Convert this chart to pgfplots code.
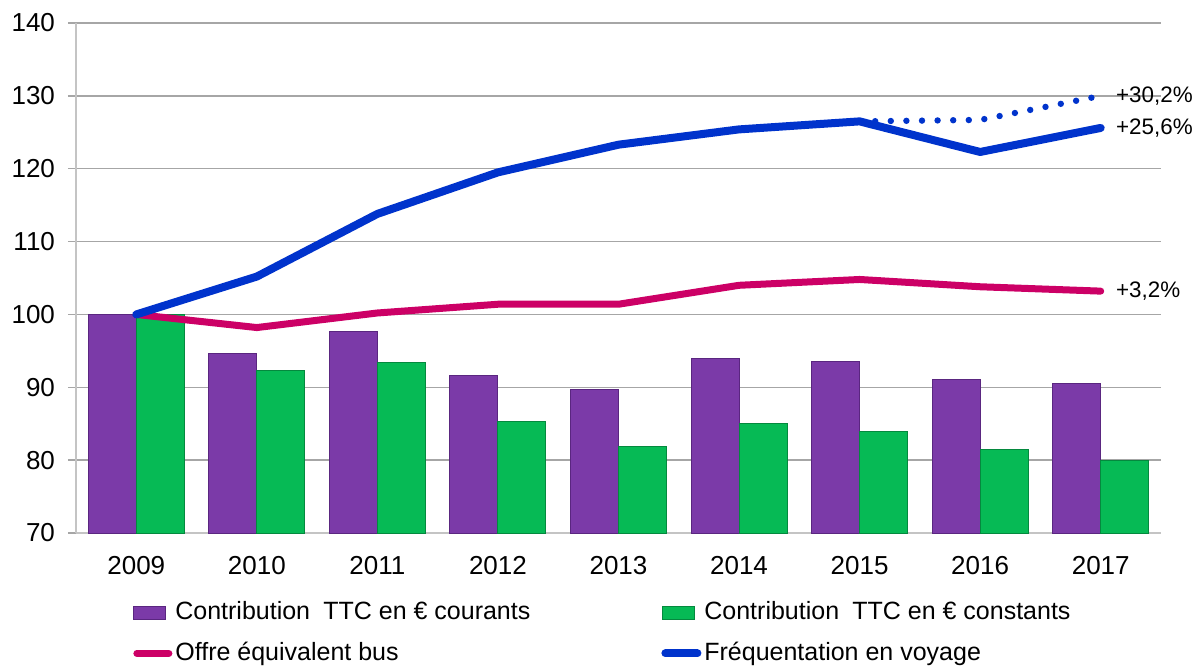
\documentclass[border=0pt]{standalone}
\usepackage{pgfplots}
\pgfplotsset{compat=1.18}
\usepackage{fontspec}
\setmainfont{Liberation Sans}
\definecolor{cpurple}{HTML}{7B3AA8}
\definecolor{cpurpled}{HTML}{5A2680}
\definecolor{cgreen}{HTML}{06BA55}
\definecolor{cgreend}{HTML}{04893E}
\definecolor{cred}{HTML}{CC0066}
\definecolor{cblue}{HTML}{0033CC}
\definecolor{cgrid}{HTML}{A6A6A6}
\definecolor{caxis}{HTML}{C4C4C4}
\begin{document}
\begin{tikzpicture}
\path[use as bounding box] (-38pt,-66.5pt) rectangle (559pt,266.5pt);
\begin{axis}[
  at={(0pt,0pt)}, anchor=south west,
  scale only axis, width=542.5pt, height=255pt,
  xmin=-0.5, xmax=8.5, ymin=70, ymax=140,
  ytick={70,80,...,140},
  xtick={0,...,8},
  xticklabels={2009,2010,2011,2012,2013,2014,2015,2016,2017},
  minor xtick={-0.5,0.5,...,8.5},
  axis x line*=bottom, axis y line*=left,
  axis line style={caxis, line width=0.9pt, -},
  ymajorgrids, major grid style={cgrid, line width=0.75pt},
  tick align=outside,
  major tick length=4pt, minor tick length=4pt,
  xtick style={draw=none},
  minor x tick style={caxis, line width=0.9pt},
  ytick style={cgrid, line width=0.75pt},
  ticklabel style={font=\fontsize{13}{15}\selectfont},
  /pgf/number format/assume math mode=true,
  yticklabel style={xshift=-3pt},
  xticklabel style={yshift=-4pt},
  clip mode=individual,
  legend columns=2,
  legend style={
    at={(rel axis cs:0.0525,-0.1255)}, anchor=north west,
    draw=none, fill=none, inner sep=0pt,
    font=\fontsize{12.5}{14}\selectfont,
    row sep=5.5pt,
    nodes={inner sep=1.5pt, anchor=west, text height=9.5pt, text depth=2.5pt},
    /tikz/every even column/.append style={column sep=64pt},
  },
  legend cell align=left,
]
\addplot[ybar, bar width=0.398, bar shift=-0.199, fill=cpurple, draw=cpurpled, line width=0.5pt,
  legend image code/.code={\draw[fill=cpurple, draw=cpurpled, line width=0.4pt] (0pt,-3.25pt) rectangle (16pt,3.25pt);}]
  coordinates {(0,100) (1,94.6) (2,97.6) (3,91.6) (4,89.7) (5,94.0) (6,93.5) (7,91.1) (8,90.5)};
\addlegendentry{Contribution\hspace{0.25em} TTC en € courants}
\addplot[ybar, bar width=0.398, bar shift=0.199, fill=cgreen, draw=cgreend, line width=0.5pt,
  legend image code/.code={\draw[fill=cgreen, draw=cgreend, line width=0.4pt] (0pt,-3.25pt) rectangle (16pt,3.25pt);}]
  coordinates {(0,100) (1,92.3) (2,93.4) (3,85.3) (4,81.9) (5,85.0) (6,83.9) (7,81.5) (8,80.0)};
\addlegendentry{Contribution\hspace{0.25em} TTC en € constants}
\addplot[cred, line width=3.5pt, line join=round, line cap=round, mark=none,
  legend image code/.code={\draw[cred, line width=3.5pt, line cap=round] (1.5pt,0pt) -- (17.5pt,0pt);}]
  coordinates {(0,100) (1,98.2) (2,100.2) (3,101.4) (4,101.4) (5,104.0) (6,104.8) (7,103.8) (8,103.2)};
\addlegendentry{Offre équivalent bus}
\addplot[cblue, line width=4pt, line join=round, line cap=round, mark=none,
  legend image code/.code={\draw[cblue, line width=4pt, line cap=round] (1.5pt,0pt) -- (17.5pt,0pt);}]
  coordinates {(0,100) (1,105.2) (2,113.8) (3,119.5) (4,123.3) (5,125.4) (6,126.5) (7,122.3) (8,125.6)};
\addlegendentry{Fréquentation en voyage}
\addplot[cblue, line width=3.2pt, line cap=round, dash pattern=on 0pt off 7.8pt, mark=none, forget plot]
  coordinates {(6,126.5) (7,126.7) (8,130.0)};
\node[anchor=west, inner sep=0pt, xshift=7.5pt, font=\fontsize{11.2}{13}\selectfont] at (axis cs:8,130.0) {+30,2\%};
\node[anchor=west, inner sep=0pt, xshift=7.5pt, font=\fontsize{11.2}{13}\selectfont] at (axis cs:8,125.6) {+25,6\%};
\node[anchor=west, inner sep=0pt, xshift=7.5pt, font=\fontsize{11.2}{13}\selectfont] at (axis cs:8,103.2) {+3,2\%};
\end{axis}
\end{tikzpicture}
\end{document}
